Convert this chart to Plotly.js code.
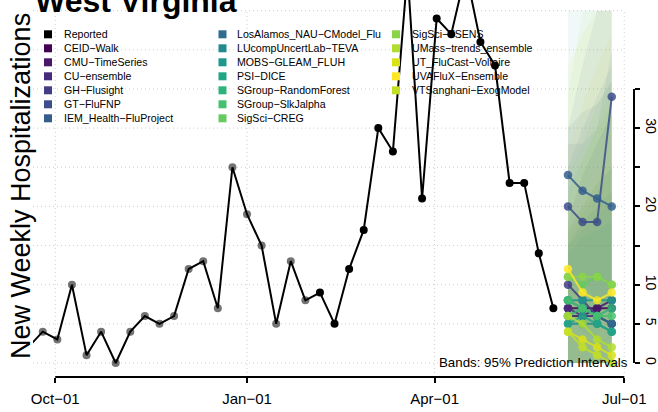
<!DOCTYPE html>
<html><head><meta charset="utf-8">
<script src="https://cdn.plot.ly/plotly-3.0.1.min.js"></script>
<style>html,body{margin:0;padding:0;background:#fff}#chart{width:658px;height:412px}</style>
</head><body><div id="chart"></div>
<script>
// ---------------- data ----------------
const reportedDates = ['2022-09-18','2022-09-25','2022-10-02','2022-10-09','2022-10-16','2022-10-23','2022-10-30','2022-11-06','2022-11-13','2022-11-20','2022-11-27','2022-12-04','2022-12-11','2022-12-18','2022-12-25','2023-01-01','2023-01-08','2023-01-15','2023-01-22','2023-01-29','2023-02-05','2023-02-12','2023-02-19','2023-02-26','2023-03-05','2023-03-12','2023-03-19','2023-03-26','2023-04-02','2023-04-09','2023-04-16','2023-04-23','2023-04-30','2023-05-07','2023-05-14','2023-05-21','2023-05-28'];
const reportedValues = [2,4,3,10,1,4,0,4,6,5,6,12,13,7,25,19,15,5,13,8,9,5,12,17,30,27,50,21,44,42,50,41,38,23,23,14,7];
const reportedEarlyCount = 20; // points drawn grey (before 2023-02-05)

const forecastDates = ['2023-06-04','2023-06-11','2023-06-18','2023-06-25'];
const modelNames = ['CEID\u2212Walk','CMU\u2212TimeSeries','CU\u2212ensemble','GH\u2212Flusight','GT\u2212FluFNP','IEM_Health\u2212FluProject','LosAlamos_NAU\u2212CModel_Flu','LUcompUncertLab\u2212TEVA','MOBS\u2212GLEAM_FLUH','PSI\u2212DICE','SGroup\u2212RandomForest','SGroup\u2212SlkJalpha','SigSci\u2212CREG','SigSci\u2212TSENS','UMass\u2212trends_ensemble','UT_FluCast\u2212Voltaire','UVAFluX\u2212Ensemble','VTSanghani\u2212ExogModel'];
const modelColors = ['#440154','#481769','#472A7A','#433D84','#3D4E8A','#355E8D','#2E6D8E','#23898E','#1F978B','#21A585','#2EB37C','#46C06F','#65CB5E','#89D548','#B0DD2F','#D8E219','#FDE725','#C2DF23'];
const pointForecasts = [
  [7,7,7,7],
  [6,6,7,8],
  [7,6,6,5],
  [10,8,6,5],
  [20,18,18,34],
  [24,22,21,20],
  [8,7,6,5],
  [5,5,5,4],
  [8,8,8,8],
  [5,6,5,4],
  [6,7,6,7],
  [8,7,6,6],
  [11,10,11,10],
  [11,11,11,10],
  [6,5,3,2],
  [4,3,2,1],
  [12,9,8,9],
  [4,2,1,0]
];
const upper95 = [
  [18,24,28,32],
  [15,18,20,22],
  [17,20,23,25],
  [30,38,45,45],
  [28,28,30,40],
  [30,32,33,36],
  [25,30,34,38],
  [14,16,17,18],
  [15,17,19,20],
  [45,45,45,45],
  [16,19,22,25],
  [22,26,30,33],
  [24,28,33,36],
  [34,45,45,45],
  [17,20,24,27],
  [38,42,45,45],
  [27,33,38,42],
  [20,26,30,35]
];
const lower95 = [
  [0,0,0,0],[0,0,0,0],[0,0,0,0],[0,0,0,0],[6,4,3,10],[12,10,8,6],[0,0,0,0],[0,0,0,0],[0,0,0,0],
  [0,0,0,0],[0,0,0,0],[0,0,0,0],[0,0,0,0],[0,0,0,0],[0,0,0,0],[0,0,0,0],[0,0,0,0],[0,0,0,0]
];
const bandDrawOrder = [16,15,0,1,2,3,4,5,6,7,8,9,10,11,12,13,14,17];

const xTickDates = ['2022-10-01','2023-01-01','2023-04-01','2023-07-01'];
const xTickLabels = ['Oct\u221201','Jan\u221201','Apr\u221201','Jul\u221201'];
const yTickVals = [0,5,10,15,20,25,30,35];
const yTickLabels = ['0','5','10','','20','','30',''];
const yGridVals = [0,5,10,15,20,25,30,35,40,45];

// ---------------- layout helpers ----------------
const W = 658, H = 412;
const ML = 33, MR = 24, MT = 0, MB = 35;
const PW = W - ML - MR, PH = H - MT - MB;
const px2x = p => (p - ML) / PW;
const px2y = p => (H - MB - p) / PH;
const xRange = ['2022-09-20 07:41','2023-07-05 16:19'];
const yRange = [-1.79, 46.36];

function hexA(hex, a) {
  const r = parseInt(hex.slice(1,3),16), g = parseInt(hex.slice(3,5),16), b = parseInt(hex.slice(5,7),16);
  return `rgba(${r},${g},${b},${a})`;
}

const traces = [];
bandDrawOrder.forEach(i => {
  traces.push({
    x: forecastDates.concat(forecastDates.slice().reverse()),
    y: upper95[i].concat(lower95[i].slice().reverse()),
    type: 'scatter', mode: 'none', fill: 'toself',
    fillcolor: hexA(modelColors[i], 0.065), hoverinfo: 'skip', showlegend: false
  });
});
traces.push({
  x: reportedDates, y: reportedValues, type: 'scatter', mode: 'lines+markers',
  line: {color: '#000', width: 2},
  marker: {size: 8, color: reportedValues.map((v, k) => k < reportedEarlyCount ? 'rgba(0,0,0,0.55)' : '#000')},
  name: 'Reported', showlegend: false
});
modelNames.forEach((m, i) => {
  traces.push({
    x: forecastDates, y: pointForecasts[i], type: 'scatter', mode: 'lines+markers',
    line: {color: hexA(modelColors[i], 0.85), width: 2},
    marker: {size: 8.5, color: hexA(modelColors[i], 0.85)},
    name: m, showlegend: false
  });
});

const shapes = [];
const grid = {color: '#cfcfcf', width: 1, dash: '1px,3px'};
yGridVals.forEach(v => shapes.push({type:'line', layer:'below', xref:'x', yref:'y', x0: xRange[0], x1: xTickDates[3], y0: v, y1: v, line: grid}));
xTickDates.forEach(d => shapes.push({type:'line', layer:'below', xref:'x', yref:'y', x0: d, x1: d, y0: yRange[0], y1: 45, line: grid}));
shapes.push({type:'line', xref:'x', yref:'paper', x0: xTickDates[0], x1: xTickDates[3], y0: 0, y1: 0, line:{color:'#000', width:2}});
shapes.push({type:'line', xref:'paper', yref:'y', x0: 1, x1: 1, y0: yTickVals[0], y1: yTickVals[yTickVals.length-1], line:{color:'#000', width:2}});

const legendEntries = [{name:'Reported', color:'#000'}].concat(modelNames.map((m,i)=>({name:m, color:modelColors[i]})));
const colSquareX = [48, 222.5, 396];
const colTextX = [63, 236, 411];
const rowY0 = 34.3, rowStep = 14, perCol = 7, sq = 8;
const annotations = [];
legendEntries.forEach((e, k) => {
  const c = Math.floor(k / perCol), r = k % perCol;
  const cy = rowY0 + r * rowStep;
  shapes.push({type:'rect', xref:'paper', yref:'paper',
    x0: px2x(colSquareX[c] - sq/2), x1: px2x(colSquareX[c] + sq/2),
    y0: px2y(cy + sq/2), y1: px2y(cy - sq/2),
    fillcolor: e.color, line: {width: 0}});
  annotations.push({xref:'paper', yref:'paper', x: px2x(colTextX[c]), y: px2y(cy), xanchor:'left', yanchor:'middle',
    text: e.name, showarrow:false, font:{size:10.6, color:'#000'}, borderpad:0});
});
annotations.push({xref:'paper', yref:'paper', x: px2x(34), y: px2y(1), xanchor:'left', yanchor:'middle',
  text:'<b>West Virginia</b>', showarrow:false, font:{size:32, color:'#000'}, borderpad:0});
annotations.push({xref:'paper', yref:'paper', x: px2x(21), y: px2y(186), xanchor:'center', yanchor:'middle', textangle:-90,
  text:'New Weekly Hospitalizations', showarrow:false, font:{size:27, color:'#000'}, borderpad:0});
annotations.push({xref:'paper', yref:'paper', x: px2x(629), y: px2y(362.5), xanchor:'right', yanchor:'middle',
  text:'Bands: 95% Prediction Intervals', showarrow:false, font:{size:13.3, color:'#000'}, borderpad:0});

const layout = {
  width: W, height: H,
  margin: {l: ML, r: MR, t: MT, b: MB, pad: 0},
  paper_bgcolor: '#fff', plot_bgcolor: '#fff', showlegend: false,
  font: {family: 'Liberation Sans, Arial, Helvetica, sans-serif', color: '#000'},
  xaxis: {type:'date', range: xRange, tickmode:'array', tickvals: xTickDates, ticktext: xTickLabels,
    ticks:'outside', ticklen:5, tickwidth:2, tickcolor:'#000', showgrid:false, zeroline:false, showline:false,
    tickfont:{size:15, color:'#000'}, ticklabelstandoff: 3},
  yaxis: {side:'right', range: yRange, tickmode:'array', tickvals: yTickVals, ticktext: yTickLabels,
    ticks:'outside', ticklen:5, tickwidth:2, tickcolor:'#000', tickangle: 90, showgrid:false, zeroline:false, showline:false,
    tickfont:{size:14, color:'#000'}, ticklabelstandoff: 0},
  shapes: shapes, annotations: annotations
};

Plotly.newPlot('chart', traces, layout, {staticPlot: true, displayModeBar: false});
</script></body></html>
